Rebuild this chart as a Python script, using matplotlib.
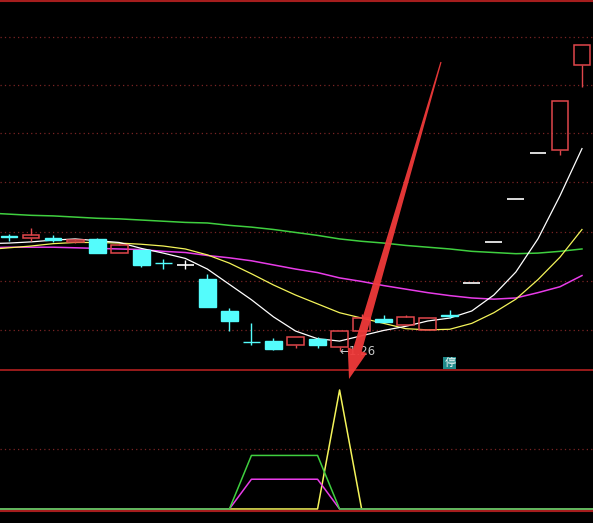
import numpy as np
import matplotlib
matplotlib.use("Agg")
import matplotlib.pyplot as plt
from matplotlib.patches import Rectangle, Polygon

plt.rcParams['font.family'] = ['DejaVu Sans', 'Noto Sans CJK SC']

# ---- daily bars -------------------------------------------------------
opens  = [1.455, 1.452, 1.451, 1.444, 1.450, 1.427, 1.432, 1.410, 1.406,
          1.382, 1.328, 1.276, 1.277, 1.270, 1.280, 1.267, 1.294, 1.314,
          1.304, 1.296, 1.321, 1.376, 1.444, 1.517, 1.595, 1.600, 1.745]
highs  = [1.459, 1.469, 1.456, 1.450, 1.452, 1.442, 1.432, 1.416, 1.415,
          1.391, 1.333, 1.308, 1.282, 1.284, 1.284, 1.294, 1.323, 1.321,
          1.321, 1.316, 1.330, 1.376, 1.444, 1.517, 1.595, 1.683, 1.779]
lows   = [1.447, 1.447, 1.445, 1.443, 1.427, 1.427, 1.403, 1.399, 1.399,
          1.335, 1.294, 1.270, 1.262, 1.265, 1.265, 1.260, 1.294, 1.310,
          1.304, 1.296, 1.316, 1.376, 1.444, 1.517, 1.595, 1.592, 1.707]
closes = [1.453, 1.457, 1.449, 1.449, 1.427, 1.439, 1.406, 1.409, 1.406,
          1.335, 1.311, 1.275, 1.263, 1.284, 1.270, 1.294, 1.316, 1.310,
          1.318, 1.316, 1.320, 1.376, 1.444, 1.517, 1.595, 1.683, 1.779]

# ---- moving averages (first value belongs to the bar before the window)
ma5  = [1.442, 1.443, 1.445, 1.448, 1.450, 1.447, 1.444, 1.434, 1.426,
        1.417, 1.399, 1.373, 1.347, 1.318, 1.294, 1.281, 1.277, 1.286,
        1.295, 1.302, 1.311, 1.316, 1.328, 1.355, 1.394, 1.450, 1.523, 1.603]
ma10 = [1.432, 1.435, 1.438, 1.442, 1.444, 1.444, 1.443, 1.441, 1.438,
        1.433, 1.423, 1.409, 1.391, 1.372, 1.355, 1.340, 1.325, 1.316,
        1.307, 1.298, 1.296, 1.297, 1.307, 1.325, 1.348, 1.381, 1.419, 1.466]
ma20 = [1.435, 1.436, 1.436, 1.436, 1.435, 1.434, 1.433, 1.432, 1.429,
        1.427, 1.422, 1.418, 1.413, 1.406, 1.399, 1.393, 1.384, 1.378,
        1.371, 1.365, 1.359, 1.354, 1.350, 1.348, 1.350, 1.359, 1.369, 1.388]
ma60 = [1.494, 1.492, 1.490, 1.489, 1.487, 1.485, 1.484, 1.482, 1.480,
        1.478, 1.477, 1.473, 1.470, 1.466, 1.461, 1.456, 1.450, 1.446,
        1.443, 1.439, 1.436, 1.433, 1.429, 1.427, 1.425, 1.426, 1.429, 1.433]

# ---- lower indicator (one value per bar, padded one bar each side)
sig_green   = [0] * 12 + [45] * 4 + [0] * 13
sig_magenta = [0] * 12 + [25] * 4 + [0] * 13
sig_yellow  = [0] * 16 + [100] + [0] * 12

grid_levels = [1.296, 1.379, 1.462, 1.546, 1.629, 1.711, 1.792]
low_index, low_text = 15, "\u21901.26"
halt_index, halt_text = 20, "停"

RED = '#e0464b'
CYAN = '#54fcfc'
BORDER = '#a51d1d'
GRIDC = '#7a2424'

W, H = 593, 523
fig = plt.figure(figsize=(W / 100, H / 100), dpi=100, facecolor='black')

top_main, bot_main = 1, 370
bot_low = 511
ax = fig.add_axes([0, 1 - bot_main / H, 1, (bot_main - top_main) / H])
axl = fig.add_axes([0, 1 - bot_low / H, 1, (bot_low - bot_main) / H])

for a in (ax, axl):
    a.set_facecolor('black')
    a.set_xlim(-0.41, 26.5)
    a.set_xticks([])
    a.tick_params(left=False, labelleft=False)
    for s in ('left', 'right'):
        a.spines[s].set_visible(False)

ax.set_ylim(1.228, 1.853)
ax.set_yticks(grid_levels)
ax.grid(axis='y', color=GRIDC, linestyle=(0, (1, 2.5)), linewidth=0.9)
ax.spines['top'].set_color(BORDER)
ax.spines['top'].set_linewidth(1.5)
ax.spines['bottom'].set_visible(False)

# moving averages
ma_x = np.arange(-1, len(closes))
ax.plot(ma_x, ma60, color='#3fcf3f', lw=1.1, zorder=2)
ax.plot(ma_x, ma20, color='#e83ce8', lw=1.1, zorder=2)
ax.plot(ma_x, ma10, color='#f4f45a', lw=0.9, zorder=2)
ax.plot(ma_x, ma5, color='white', lw=0.9, zorder=2)

# candles
bw = 0.76
for i, (o, h, l, c) in enumerate(zip(opens, highs, lows, closes)):
    if c > o:
        col = RED
    elif c < o:
        col = CYAN
    else:
        col = 'white'
    top, bot = max(o, c), min(o, c)
    if c == o:
        ax.vlines(i, l, h, color=col, lw=1, zorder=3)
        ax.hlines(o, i - bw / 2, i + bw / 2, color=col, lw=1.2, zorder=3)
        continue
    if c > o:
        ax.vlines(i, top, h, color=col, lw=1, zorder=3)
        ax.vlines(i, l, bot, color=col, lw=1, zorder=3)
        ax.add_patch(Rectangle((i - bw / 2, bot), bw, top - bot, facecolor='none',
                               edgecolor=col, lw=1.1, zorder=3))
    else:
        ax.vlines(i, l, h, color=col, lw=1, zorder=3)
        ax.add_patch(Rectangle((i - bw / 2, bot), bw, top - bot, facecolor=col,
                               edgecolor=col, lw=1, zorder=3))

# lowest price marker
ax.text(low_index, lows[low_index], low_text, color='#c8c8c8', fontsize=8.5,
        ha='left', va='center', zorder=4)

# trading-halt tag
ax.text(halt_index, 1.2395, halt_text, color='white', fontsize=8,
        family=['Noto Sans CJK SC', 'DejaVu Sans'], ha='center', va='center',
        zorder=4, bbox=dict(boxstyle='square,pad=0.08', facecolor='#1f8a8a',
                            edgecolor='none'))

# lower panel
axl.set_ylim(-1.7, 116.8)
axl.set_yticks([50])
axl.grid(axis='y', color=GRIDC, linestyle=(0, (1, 2.5)), linewidth=0.9)
axl.spines['top'].set_color(BORDER)
axl.spines['top'].set_linewidth(1.3)
axl.spines['bottom'].set_color(BORDER)
axl.spines['bottom'].set_linewidth(1.5)
ind_x = np.arange(-1, len(closes) + 1)
axl.plot(ind_x, sig_yellow, color='#f4f45a', lw=1.1, zorder=2)
axl.plot(ind_x, sig_magenta, color='#e83ce8', lw=1.1, zorder=3)
axl.plot(ind_x, sig_green, color='#3fcf3f', lw=1.1, zorder=4)

# red pointer arrow drawn over both panels
tail = np.array([441.0, 62.0])
tip = np.array([349.0, 379.0])
u = (tip - tail) / np.linalg.norm(tip - tail)
n = np.array([u[1], -u[0]])
base = tip - 30 * u
pts_px = [tail + 0.6 * n, base + 4.5 * n, base + 10 * n, tip,
          base - 10 * n, base - 4.5 * n, tail - 0.6 * n]
pts = [(x / W, 1 - y / H) for x, y in pts_px]
fig.add_artist(Polygon(pts, closed=True, transform=fig.transFigure,
                       facecolor='#f03a3a', edgecolor='none', alpha=0.95,
                       zorder=10))

fig.savefig('out.png', dpi=100, facecolor='black')
